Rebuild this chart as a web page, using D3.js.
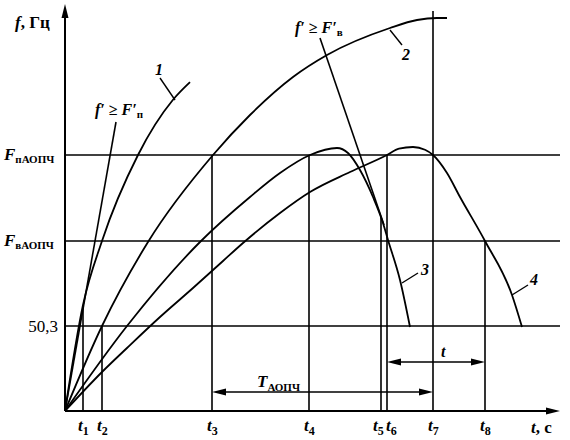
<!DOCTYPE html>
<html>
<head>
<meta charset="utf-8">
<script src="https://cdn.jsdelivr.net/npm/d3@7"></script>
<style>
body { margin: 0; background: #fff; }
text { font-family: "Liberation Serif", "Times New Roman", serif; font-weight: bold; fill: #000; }
</style>
</head>
<body>
<div id="chart"></div>
<script>
var width = 570, height = 440;

// moments on the time axis (relative seconds) and the height of their marker lines
var tTimes = [0.36, 0.74, 2.94, 4.88, 6.32, 6.44, 7.36, 8.4];
var tNames = ["1", "2", "3", "4", "5", "6", "7", "8"];
var tTops = [2.65, 2.125, 6.4, 6.4, 4.85, 6.4, 10, 4.25];
var tLabelShift = [-5, -5, -5, -5, -8, -1, -5, -5];

// frequency levels (relative units): 50,3 ; F_вАОПЧ ; F_пАОПЧ
var fLevels = [2.125, 4.25, 6.4];
var fMain = ["", "F", "F"];
var fSub = ["", "вАОПЧ", "пАОПЧ"];
var fPlain = ["50,3", "", ""];

// frequency curves f(t)
var curve1 = [[0, 0], [0.36, 2.65], [0.74, 4.25], [1.46, 6.4], [2.16, 7.78], [2.5, 8.22]];
var curve2 = [[0, 0], [0.74, 2.125], [1.66, 4.225], [2.96, 6.4], [3.7, 7.4], [4.56, 8.35],
              [5.24, 8.9], [6.5, 9.575], [7.04, 9.775], [7.44, 9.825], [7.64, 9.825]];
var curve3 = [[0, 0], [1.24, 2.125], [2.7, 4.225], [3.7, 5.35], [4.3, 5.95], [4.9, 6.4],
              [5.44, 6.575], [5.66, 6.45], [5.9, 6.025], [6.16, 5.35], [6.36, 4.7],
              [6.46, 4.275], [6.7, 3.275], [6.9, 2.1]];
var curve4 = [[0, 0], [0.74, 0.975], [1.24, 1.575], [1.9, 2.35], [2.56, 3.075], [3.16, 3.75],
              [3.56, 4.2], [4.3, 4.95], [4.9, 5.475], [5.7, 5.975], [6.44, 6.4], [6.68, 6.56],
              [6.96, 6.6], [7.2, 6.53], [7.36, 6.4], [7.64, 5.95], [7.9, 5.35], [8.4, 4.25],
              [8.94, 2.9], [9.14, 2.1]];

// limiting rate-of-change lines f' >= F'п and f' >= F'в
var limitP = [[0, 0], [1.02, 7.225]];
var limitV = [[5.1, 9.325], [6.38, 4.65]];

var x = d3.scaleLinear().domain([0, 9.9]).range([65, 560]);
var y = d3.scaleLinear().domain([0, 10]).range([411, 11]);

var svg = d3.select("#chart").append("svg")
  .attr("width", width)
  .attr("height", height);

var smooth = d3.line().x(function(d) { return x(d[0]); }).y(function(d) { return y(d[1]); })
  .curve(d3.curveMonotoneX);
var straight = d3.line().x(function(d) { return x(d[0]); }).y(function(d) { return y(d[1]); });

function arrowHead(px, py, dx, dy) {
  var len = 14, hw = 3.5;
  var bx = px - dx * len, by = py - dy * len;
  var pts = [[px, py], [bx - dy * hw, by + dx * hw], [bx + dy * hw, by - dx * hw]];
  svg.append("path").attr("d", "M" + pts.join("L") + "Z").attr("fill", "#000");
}

// level lines
svg.selectAll(".level").data(fLevels).enter().append("line")
  .attr("x1", x(0)).attr("x2", x(9.9))
  .attr("y1", function(d) { return y(d); }).attr("y2", function(d) { return y(d); })
  .attr("stroke", "#000").attr("stroke-width", 1.6);

// moment marker lines
svg.selectAll(".tline").data(tTimes).enter().append("line")
  .attr("x1", function(d) { return x(d); }).attr("x2", function(d) { return x(d); })
  .attr("y1", y(0)).attr("y2", function(d, i) { return y(tTops[i]); })
  .attr("stroke", "#000").attr("stroke-width", 1.6);

// axes
svg.append("line").attr("x1", x(0)).attr("x2", x(0)).attr("y1", y(0)).attr("y2", 10)
  .attr("stroke", "#000").attr("stroke-width", 2);
arrowHead(x(0), 4, 0, -1);
svg.append("line").attr("x1", x(0)).attr("x2", x(9.9) - 4).attr("y1", y(0)).attr("y2", y(0))
  .attr("stroke", "#000").attr("stroke-width", 2);
arrowHead(x(9.9), y(0), 1, 0);

// curves
[curve1, curve2, curve3, curve4].forEach(function(c) {
  svg.append("path").attr("d", smooth(c)).attr("fill", "none")
    .attr("stroke", "#000").attr("stroke-width", 1.8);
});
[limitP, limitV].forEach(function(c) {
  svg.append("path").attr("d", straight(c)).attr("fill", "none")
    .attr("stroke", "#000").attr("stroke-width", 1.6);
});

// curve number leaders
var leaders = [
  [[1.9, 8.325], [2.2, 7.775]],
  [[6.5, 9.525], [6.74, 9.15]],
  [[6.74, 3.2], [7.06, 3.45]],
  [[8.94, 2.9], [9.26, 3.15]]
];
leaders.forEach(function(l) {
  svg.append("path").attr("d", straight(l)).attr("stroke", "#000").attr("stroke-width", 1.4);
});
var numLabels = [["1", 1.8, 8.4], ["2", 6.74, 8.775], ["3", 7.12, 3.4], ["4", 9.3, 3.15]];
numLabels.forEach(function(n) {
  svg.append("text").attr("x", x(n[1])).attr("y", y(n[2]))
    .style("font-style", "italic").style("font-size", "16px").text(n[0]);
});

// interval arrows
function interval(t0, t1, level) {
  svg.append("line").attr("x1", x(t0) + 6).attr("x2", x(t1) - 6)
    .attr("y1", y(level)).attr("y2", y(level))
    .attr("stroke", "#000").attr("stroke-width", 1.6);
  arrowHead(x(t0), y(level), -1, 0);
  arrowHead(x(t1), y(level), 1, 0);
}
interval(tTimes[2], tTimes[6], 0.475);
interval(tTimes[5], tTimes[7], 1.225);

var tA = svg.append("text").attr("x", x(3.84)).attr("y", y(0.6)).style("font-size", "17px");
tA.append("tspan").style("font-style", "italic").text("T");
tA.append("tspan").attr("dy", 4).style("font-size", "11px").text("АОПЧ");
svg.append("text").attr("x", x(7.52)).attr("y", y(1.35))
  .style("font-style", "italic").style("font-size", "16px").text("t");

// time tick labels
svg.selectAll(".tlab").data(tTimes).enter().append("text")
  .attr("x", function(d, i) { return x(d) + tLabelShift[i]; })
  .attr("y", 431)
  .style("font-size", "17px")
  .each(function(d, i) {
    var t = d3.select(this);
    t.append("tspan").style("font-style", "italic").text("t");
    t.append("tspan").attr("dy", 4).style("font-size", "12px").text(tNames[i]);
  });

var tc = svg.append("text").attr("x", 531).attr("y", 433).style("font-size", "17px");
tc.append("tspan").style("font-style", "italic").text("t");
tc.append("tspan").text(", с");

// frequency labels
fLevels.forEach(function(v, i) {
  if (fPlain[i]) {
    svg.append("text").attr("x", 58).attr("y", y(v) + 6).attr("text-anchor", "end")
      .style("font-size", "17px").style("font-weight", "normal").text(fPlain[i]);
  } else {
    var lab = svg.append("text").attr("x", 4).attr("y", y(v) + 5).style("font-size", "17px");
    lab.append("tspan").style("font-style", "italic").text(fMain[i]);
    lab.append("tspan").attr("dy", 3).style("font-size", "11px").text(fSub[i]);
  }
});

var fh = svg.append("text").attr("x", 15).attr("y", 28).style("font-size", "17px");
fh.append("tspan").style("font-style", "italic").text("f");
fh.append("tspan").text(", Гц");

// limit line captions
function primeLabel(px, py, sub) {
  var g = svg.append("text").attr("x", px).attr("y", py).style("font-size", "16px");
  g.append("tspan").style("font-style", "italic").text("f′");
  g.append("tspan").text(" ≥ ");
  g.append("tspan").style("font-style", "italic").text("F′");
  g.append("tspan").attr("dy", 3).style("font-size", "11px").text(sub);
}
primeLabel(x(0.6), y(7.4), "п");
primeLabel(x(4.6), y(9.45), "в");
</script>
</body>
</html>
